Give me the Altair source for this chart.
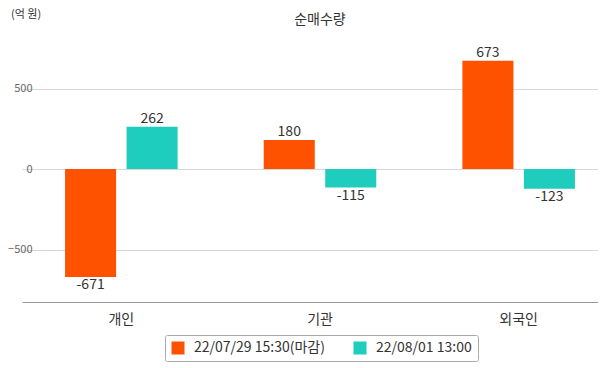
import altair as alt
import pandas as pd

categories = ["개인", "기관", "외국인"]
series = ["22/07/29 15:30(마감)", "22/08/01 13:00"]
values_s1 = [-671, 180, 673]
values_s2 = [262, -115, -123]
colors = ["#FF5200", "#1ECDBD"]

rows = []
for i, c in enumerate(categories):
    rows.append({"cat": c, "series": series[0], "value": values_s1[i]})
    rows.append({"cat": c, "series": series[1], "value": values_s2[i]})
df = pd.DataFrame(rows)
df["label"] = df["value"].astype(str)
df["pos"] = df["value"] >= 0

FONT = "Noto Sans CJK KR"

x_enc = alt.X("cat:N", sort=categories,
              scale=alt.Scale(range=[-20, 576], paddingInner=0, paddingOuter=0),
              axis=alt.Axis(title=None, labelAngle=0, labelFontSize=14, labelColor="#333333",
                            labelPadding=10, ticks=False, domainColor="#999999", domainWidth=1,
                            labelFont=FONT, grid=False))
xoff = alt.XOffset("series:N", sort=series,
                   scale=alt.Scale(paddingInner=0.17, paddingOuter=0.7))
y_scale = alt.Scale(domain=[-826, 839], nice=False, zero=False)

bars = alt.Chart(df).mark_bar().encode(
    x=x_enc,
    xOffset=xoff,
    y=alt.Y("value:Q", scale=y_scale,
            axis=alt.Axis(title=None,
                          values=[-500, 0, 500], labelFontSize=11, labelColor="#666666",
                          labelFont=FONT, labelPadding=10, ticks=False, domain=False,
                          gridColor="#d8d8d8", gridWidth=1)),
    y2=alt.datum(0),
    color=alt.Color("series:N", sort=series,
                    scale=alt.Scale(domain=series, range=colors),
                    legend=alt.Legend(title=None, orient="none", direction="horizontal",
                                      legendX=123, legendY=301,
                                      symbolType="square", symbolSize=169,
                                      symbolStrokeWidth=0, labelFontSize=14,
                                      labelColor="#333333", labelFont=FONT,
                                      columnPadding=28, labelOffset=9,
                                      strokeColor="#aaaaaa", fillColor="white",
                                      padding=6, cornerRadius=2)),
)

pos_text = alt.Chart(df[df["pos"]]).mark_text(
    baseline="bottom", dy=-1, fontSize=14, color="#333333", font=FONT
).encode(x=alt.X("cat:N", sort=categories), xOffset=xoff,
         y=alt.Y("value:Q", scale=y_scale), text="label:N")

neg_text = alt.Chart(df[~df["pos"]]).mark_text(
    baseline="top", dy=1, fontSize=14, color="#333333", font=FONT
).encode(x=alt.X("cat:N", sort=categories), xOffset=xoff,
         y=alt.Y("value:Q", scale=y_scale), text="label:N")

title_text = alt.Chart(pd.DataFrame({"t": ["순매수량"]})).mark_text(
    fontSize=14, color="#333333", font=FONT, baseline="middle", align="center"
).encode(x=alt.value(278), y=alt.value(-14), text="t:N")

unit_text = alt.Chart(pd.DataFrame({"t": ["(억 원)"]})).mark_text(
    fontSize=11, color="#333333", font=FONT, baseline="middle", align="left"
).encode(x=alt.value(-31), y=alt.value(-19), text="t:N")

chart = alt.layer(bars, pos_text, neg_text, title_text, unit_text).properties(
    width=556, height=268,
    autosize=alt.AutoSizeParams(type="none"),
    padding={"left": 34, "top": 26, "right": 0, "bottom": 60},
).configure_view(stroke=None)

chart.save("out.html", embed_options={"renderer": "svg", "actions": False})
